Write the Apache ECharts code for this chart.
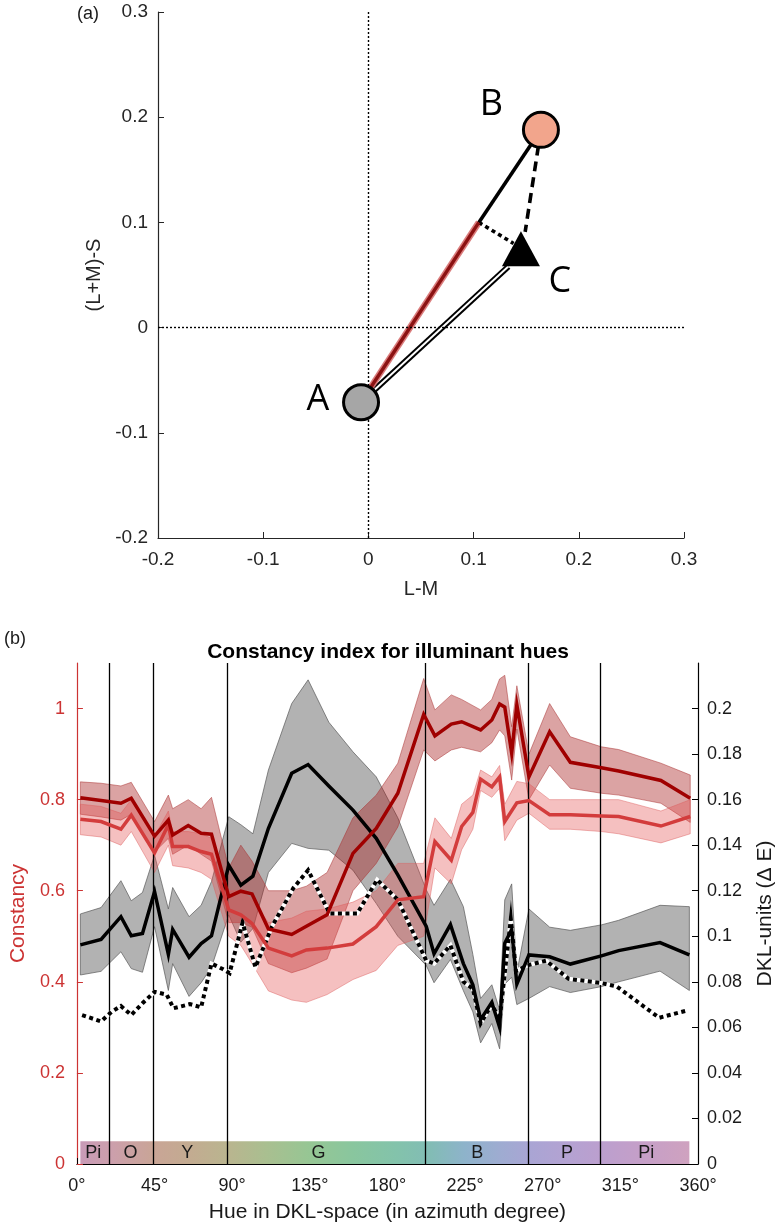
<!DOCTYPE html>
<html>
<head>
<meta charset="utf-8">
<script src="https://cdn.jsdelivr.net/npm/echarts@6.0.0/dist/echarts.min.js"></script>
<style>
  html, body { margin: 0; padding: 0; background: #ffffff; }
  #chart { width: 784px; height: 1229px; }
</style>
</head>
<body>
<div id="chart"></div>
<script>
// ---------------- Panel (a): DKL diagram points ----------------
const pointA = [-0.007, -0.071];
const pointB = [0.164, 0.188];
const pointC = [0.145, 0.075];
const projEnd = [0.105, 0.100];      // end of red projection on A-B
const dashEnd = [0.149, 0.091];      // B -> C dashed end
const dotEnd = [0.138, 0.080];       // projection -> C dotted end
const doubleEnd = [0.133, 0.058];    // A -> C double line end
const pointLabels = ['A', 'B', 'C'];
const labelPos = [[-0.048, -0.069], [0.117, 0.212], [0.182, 0.044]];

// ---------------- Panel (b): constancy data ----------------
// dark red constancy line (left axis)
const r1X = [2, 14, 25.5, 31.5, 45, 53, 55.5, 64.5, 72, 78, 88, 95, 101.5, 111, 124.5, 133, 145, 160, 173.5, 186, 201, 207.5, 217, 223, 234, 240.5, 245, 248, 252, 255, 262, 274, 286, 304, 314, 338.5, 355.5];
const r1Mean = [0.804, 0.798, 0.792, 0.803, 0.720, 0.755, 0.722, 0.743, 0.726, 0.724, 0.587, 0.599, 0.593, 0.516, 0.504, 0.522, 0.547, 0.682, 0.737, 0.814, 0.987, 0.940, 0.966, 0.971, 0.953, 0.975, 1.010, 1.003, 0.902, 1.008, 0.850, 0.949, 0.882, 0.870, 0.863, 0.842, 0.803];
const r1Upper = [0.839, 0.836, 0.830, 0.838, 0.752, 0.810, 0.780, 0.800, 0.780, 0.805, 0.650, 0.700, 0.665, 0.600, 0.600, 0.610, 0.640, 0.760, 0.810, 0.880, 1.066, 0.997, 1.030, 1.020, 0.997, 1.020, 1.065, 1.073, 0.960, 1.050, 0.900, 1.011, 0.938, 0.916, 0.910, 0.880, 0.854];
const r1Lower = [0.768, 0.762, 0.755, 0.768, 0.685, 0.715, 0.680, 0.700, 0.680, 0.665, 0.530, 0.530, 0.520, 0.440, 0.420, 0.430, 0.450, 0.600, 0.660, 0.740, 0.909, 0.885, 0.909, 0.915, 0.905, 0.925, 0.953, 0.940, 0.843, 0.955, 0.800, 0.876, 0.825, 0.814, 0.810, 0.792, 0.750];

// light red constancy line (left axis)
const r2X = [2, 14, 25.5, 31.5, 45, 53, 55.5, 64.5, 72, 78, 88, 95, 101.5, 111, 124.5, 133, 145, 160, 173.5, 186, 201, 207.5, 217, 223, 229.5, 234, 240.5, 245, 248, 255, 262, 274, 286, 304, 314, 338.5, 355.5];
const r2Mean = [0.757, 0.752, 0.735, 0.766, 0.683, 0.745, 0.697, 0.697, 0.686, 0.680, 0.558, 0.547, 0.528, 0.474, 0.457, 0.470, 0.474, 0.483, 0.521, 0.580, 0.587, 0.708, 0.667, 0.741, 0.772, 0.845, 0.828, 0.850, 0.752, 0.793, 0.798, 0.767, 0.767, 0.764, 0.763, 0.742, 0.763];
const r2Upper = [0.790, 0.785, 0.770, 0.800, 0.720, 0.775, 0.730, 0.730, 0.725, 0.715, 0.600, 0.600, 0.580, 0.530, 0.540, 0.555, 0.560, 0.575, 0.600, 0.660, 0.660, 0.760, 0.715, 0.790, 0.810, 0.865, 0.850, 0.875, 0.790, 0.840, 0.835, 0.800, 0.800, 0.800, 0.800, 0.775, 0.800];
const r2Lower = [0.723, 0.718, 0.700, 0.730, 0.640, 0.700, 0.655, 0.650, 0.640, 0.625, 0.500, 0.480, 0.440, 0.380, 0.360, 0.355, 0.372, 0.405, 0.425, 0.480, 0.500, 0.650, 0.615, 0.690, 0.735, 0.820, 0.805, 0.825, 0.710, 0.755, 0.770, 0.735, 0.735, 0.730, 0.725, 0.705, 0.725];

// black line with grey band (right axis, DKL units)
const gX = [2, 14, 25.5, 31.5, 38, 45, 53, 55.5, 65, 72, 78, 88, 95, 102, 111, 124.5, 134, 146, 160, 173.5, 186, 202.5, 207, 216.5, 224, 229.5, 234, 240.5, 245, 248, 252, 255, 262, 274, 286, 304, 314, 338, 355];
const gMean = [0.0962, 0.0986, 0.1086, 0.1002, 0.1012, 0.1196, 0.0920, 0.1030, 0.0908, 0.0968, 0.1002, 0.1312, 0.1224, 0.1264, 0.1474, 0.1716, 0.1754, 0.1660, 0.1554, 0.1430, 0.1270, 0.1043, 0.0923, 0.1051, 0.0880, 0.0787, 0.0634, 0.0710, 0.0600, 0.0970, 0.1030, 0.0790, 0.0918, 0.0910, 0.0878, 0.0914, 0.0937, 0.0972, 0.0918];
const gUpper = [0.1098, 0.1126, 0.1244, 0.1156, 0.1192, 0.1356, 0.1120, 0.1214, 0.1086, 0.1136, 0.1240, 0.1525, 0.1490, 0.1450, 0.1730, 0.2022, 0.2126, 0.1940, 0.1810, 0.1700, 0.1520, 0.1204, 0.1136, 0.1250, 0.1130, 0.0920, 0.0727, 0.0787, 0.0676, 0.1160, 0.1230, 0.0840, 0.1120, 0.1040, 0.1026, 0.1050, 0.1070, 0.1136, 0.1130];
const gLower = [0.0830, 0.0846, 0.0932, 0.0858, 0.0842, 0.1042, 0.0762, 0.0880, 0.0736, 0.0796, 0.0864, 0.1094, 0.0974, 0.1034, 0.1280, 0.1408, 0.1386, 0.1378, 0.1290, 0.1144, 0.1000, 0.0872, 0.0796, 0.0898, 0.0761, 0.0668, 0.0532, 0.0617, 0.0506, 0.0790, 0.0820, 0.0700, 0.0727, 0.0779, 0.0753, 0.0779, 0.0800, 0.0847, 0.0762];

// dotted black/white line (right axis)
const dX = [3, 14, 20, 25.5, 31.5, 38, 45, 52, 56, 65.5, 72, 78, 84.5, 88.5, 96, 103.5, 113, 125.5, 134, 146.5, 162.5, 174, 186, 202.5, 207, 216.5, 224, 229.5, 234, 240.5, 245, 251.5, 254.5, 261, 272, 285, 303, 313, 337.5, 354.5];
const dMean = [0.0654, 0.0626, 0.0668, 0.0694, 0.0654, 0.0706, 0.0756, 0.0744, 0.0684, 0.0702, 0.0688, 0.0880, 0.0856, 0.0838, 0.1060, 0.0864, 0.1042, 0.1212, 0.1290, 0.1100, 0.1100, 0.1248, 0.1160, 0.0893, 0.0880, 0.0960, 0.0800, 0.0770, 0.0617, 0.0702, 0.0634, 0.1077, 0.0847, 0.0872, 0.0893, 0.0813, 0.0796, 0.0779, 0.0642, 0.0676];

// hue category boundaries and labels
const boundaryDeg = [19, 44.5, 87, 202, 261.5, 303.5];
const hueNames = ['Pi', 'O', 'Y', 'G', 'B', 'P', 'Pi'];
const hueLabelDeg = [9.5, 31, 64, 140, 232, 284, 330];
const hueBarRange = [2, 355];
const hueBarTop = 0.05;
const hueLabelY = 0.024;
const hueStops = [
  [2, '#c89bb7'], [20, '#cc9fac'], [45, '#c9a596'], [65, '#c3ab91'], [88, '#b9b58f'],
  [110, '#a9bf90'], [135, '#96c694'], [160, '#89c69e'], [185, '#83c3ab'], [205, '#82bcb5'],
  [225, '#8eb3cb'], [245, '#9eacd1'], [262, '#a9a5d4'], [285, '#b4a2d2'], [305, '#bc9fce'],
  [330, '#c69fc7'], [355, '#cfa2bf']
];
const leftTicks = [0, 0.2, 0.4, 0.6, 0.8, 1];
const rightTicks = [0, 0.02, 0.04, 0.06, 0.08, 0.1, 0.12, 0.14, 0.16, 0.18, 0.2];

// ---------------- Chart ----------------
const FONT = '"Liberation Sans", Arial, Helvetica, sans-serif';
const INK = '#1a1a1a';
const RED = '#cc3333';
const chart = echarts.init(document.getElementById('chart'), null, { renderer: 'canvas' });

function pairs(xs, ys) { return xs.map((x, i) => [x, ys[i]]); }

function band(xs, up, lo, yAxisIndex, fill, stroke, z) {
  return {
    type: 'custom', xAxisIndex: 1, yAxisIndex: yAxisIndex, z: z, silent: true,
    data: xs.map((x, i) => [x, up[i], lo[i]]),
    encode: { x: 0, y: [1, 2] },
    renderItem: function (params, api) {
      if (params.dataIndex !== 0) return null;
      const pts = [];
      for (let i = 0; i < xs.length; i++) pts.push(api.coord([xs[i], up[i]]));
      for (let i = xs.length - 1; i >= 0; i--) pts.push(api.coord([xs[i], lo[i]]));
      return { type: 'polygon', shape: { points: pts }, style: { fill: fill, stroke: stroke, lineWidth: 1 } };
    }
  };
}

function seg(data, color, width, type, z) {
  return {
    type: 'line', xAxisIndex: 0, yAxisIndex: 0, data: data, showSymbol: false, symbol: 'none',
    silent: true, z: z, lineStyle: { color: color, width: width, type: type || 'solid', cap: 'butt', opacity: 1 }
  };
}

function bline(xs, ys, yAxisIndex, color, width, type, z) {
  return {
    type: 'line', xAxisIndex: 1, yAxisIndex: yAxisIndex, data: pairs(xs, ys), showSymbol: false, symbol: 'none',
    silent: true, z: z, lineStyle: { color: color, width: width, type: type || 'solid', join: 'miter', opacity: 1 }
  };
}

const barSpan = hueBarRange[1] - hueBarRange[0];
const gradient = new echarts.graphic.LinearGradient(0, 0, 1, 0,
  hueStops.map(s => ({ offset: (s[0] - hueBarRange[0]) / barSpan, color: s[1] })));

const option = {
  backgroundColor: '#ffffff',
  animation: false,
  title: {
    text: 'Constancy index for illuminant hues',
    left: 383, top: 637, textAlign: 'center',
    textStyle: { fontFamily: FONT, fontSize: 21, fontWeight: 'bold', color: '#000' }
  },
  graphic: [
    { type: 'text', left: 77, top: 5, style: { text: '(a)', fontFamily: FONT, fontSize: 18, fill: INK } },
    { type: 'text', left: 4, top: 630, style: { text: '(b)', fontFamily: FONT, fontSize: 18, fill: INK } }
  ],
  grid: [
    { left: 158, top: 12, width: 526, height: 526 },
    { left: 65, top: 663, width: 637, height: 501 }
  ],
  xAxis: [
    {
      type: 'value', gridIndex: 0, min: -0.2, max: 0.3, interval: 0.1,
      axisLine: { onZero: false, lineStyle: { color: '#262626', width: 1.2 } },
      axisTick: { inside: true, length: 6, lineStyle: { color: '#262626' } },
      splitLine: { show: false },
      axisLabel: { color: '#262626', fontFamily: FONT, fontSize: 19, margin: 12 },
      name: 'L-M', nameLocation: 'middle', nameGap: 41,
      nameTextStyle: { color: '#262626', fontFamily: FONT, fontSize: 20 }
    },
    {
      type: 'value', gridIndex: 1, min: 0, max: 360, interval: 45,
      axisLine: { onZero: false, lineStyle: { color: '#000', width: 1.2 } },
      axisTick: { inside: true, length: 6, lineStyle: { color: '#000' } },
      splitLine: { show: false },
      axisLabel: { color: INK, fontFamily: FONT, fontSize: 18, margin: 13, formatter: '{value}°' },
      name: 'Hue in DKL-space (in azimuth degree)', nameLocation: 'middle', nameGap: 38,
      nameTextStyle: { color: INK, fontFamily: FONT, fontSize: 21 }
    }
  ],
  yAxis: [
    {
      type: 'value', gridIndex: 0, min: -0.2, max: 0.3, interval: 0.1,
      axisLine: { show: true, onZero: false, lineStyle: { color: '#262626', width: 1.2 } },
      axisTick: { show: true, inside: true, length: 6, lineStyle: { color: '#262626' } },
      splitLine: { show: false },
      axisLabel: { color: '#262626', fontFamily: FONT, fontSize: 19, margin: 10 },
      name: '(L+M)-S', nameLocation: 'middle', nameGap: 49, nameRotate: 90,
      nameTextStyle: { color: '#262626', fontFamily: FONT, fontSize: 20 }
    },
    {
      type: 'value', gridIndex: 1, position: 'left', min: 0, max: 1.1,
      axisLine: { show: true, onZero: false, lineStyle: { color: RED, width: 1.2 } },
      axisTick: { show: true, inside: true, length: 6, lineStyle: { color: RED }, customValues: leftTicks },
      splitLine: { show: false },
      axisLabel: { color: RED, fontFamily: FONT, fontSize: 18, margin: 12, customValues: leftTicks },
      name: 'Constancy', nameLocation: 'middle', nameGap: 41, nameRotate: 90,
      nameTextStyle: { color: RED, fontFamily: FONT, fontSize: 21 }
    },
    {
      type: 'value', gridIndex: 1, position: 'right', min: 0, max: 0.22,
      axisLine: { show: true, onZero: false, lineStyle: { color: '#000', width: 1.2 } },
      axisTick: { show: true, inside: true, length: 6, lineStyle: { color: '#000' }, customValues: rightTicks },
      splitLine: { show: false },
      axisLabel: { color: INK, fontFamily: FONT, fontSize: 18, margin: 9, customValues: rightTicks },
      name: 'DKL-units (\u0394 E)', nameLocation: 'middle', nameGap: 57, nameRotate: 90,
      nameTextStyle: { color: INK, fontFamily: FONT, fontSize: 21 }
    }
  ],
  series: [
    // ---- panel (a)
    {
      type: 'line', xAxisIndex: 0, yAxisIndex: 0, data: [], silent: true, z: 1,
      markLine: {
        silent: true, symbol: 'none', label: { show: false }, animation: false,
        lineStyle: { color: '#000', type: [2, 2], width: 1.4 },
        data: [{ xAxis: 0 }, { yAxis: 0 }]
      }
    },
    seg([pointA, doubleEnd], '#000', 6, 'solid', 3),
    seg([pointA, doubleEnd], '#fff', 2, 'solid', 4),
    seg([pointA, projEnd], 'rgba(214,110,110,0.9)', 6.5, 'solid', 3),
    seg([pointA, projEnd], '#8b1212', 3.4, 'solid', 4),
    seg([projEnd, pointB], '#000', 3.6, 'solid', 3),
    seg([pointB, dashEnd], '#000', 3.6, [10, 6], 3),
    seg([projEnd, dotEnd], '#000', 3.6, [4, 3.5], 3),
    {
      type: 'scatter', xAxisIndex: 0, yAxisIndex: 0, symbol: 'triangle', symbolSize: [38, 35], z: 6, silent: true,
      itemStyle: { color: '#000', opacity: 1 }, data: [pointC]
    },
    {
      type: 'scatter', xAxisIndex: 0, yAxisIndex: 0, symbol: 'circle', symbolSize: 35, z: 7, silent: true,
      itemStyle: { borderColor: '#000', borderWidth: 3, opacity: 1 },
      data: [
        { value: pointA, itemStyle: { color: '#a6a6a6', opacity: 1 } },
        { value: pointB, itemStyle: { color: '#f2a58c', opacity: 1 } }
      ]
    },
    {
      type: 'scatter', xAxisIndex: 0, yAxisIndex: 0, symbolSize: 0, z: 8, silent: true,
      itemStyle: { opacity: 1 },
      label: { show: true, position: 'inside', formatter: '{b}', fontFamily: '"Open Sans", "Noto Sans", sans-serif', fontSize: 36, color: '#000' },
      data: labelPos.map((p, i) => ({ value: p, name: pointLabels[i] }))
    },
    // ---- panel (b)
    {
      type: 'line', xAxisIndex: 1, yAxisIndex: 1, data: [], z: -1, silent: true,
      markArea: {
        silent: true,
        itemStyle: { color: gradient, opacity: 1 },
        data: [[{ xAxis: hueBarRange[0], yAxis: 0 }, { xAxis: hueBarRange[1], yAxis: hueBarTop }]]
      }
    },
    {
      type: 'scatter', xAxisIndex: 1, yAxisIndex: 1, symbolSize: 1, z: 12, silent: true,
      itemStyle: { color: 'rgba(0,0,0,0)', opacity: 1 },
      label: { show: true, position: 'inside', formatter: '{b}', fontFamily: FONT, fontSize: 18, color: INK },
      data: hueLabelDeg.map((d, i) => ({ value: [d, hueLabelY], name: hueNames[i] }))
    },
    band(gX, gUpper, gLower, 2, 'rgba(85,85,85,0.45)', 'rgba(90,90,90,0.7)', 2),
    band(r1X, r1Upper, r1Lower, 1, 'rgba(170,35,35,0.42)', 'rgba(170,50,50,0.5)', 2),
    band(r2X, r2Upper, r2Lower, 1, 'rgba(228,80,80,0.36)', 'rgba(220,90,90,0.45)', 2),
    {
      type: 'line', xAxisIndex: 1, yAxisIndex: 1, data: [], silent: true, z: 5,
      markLine: {
        silent: true, symbol: 'none', label: { show: false }, animation: false,
        lineStyle: { color: '#000', type: 'solid', width: 1.3 },
        data: boundaryDeg.map(d => ({ xAxis: d }))
      }
    },
    bline(dX, dMean, 2, '#fff', 4, 'solid', 6),
    bline(dX, dMean, 2, '#000', 4, [4, 3.5], 7),
    bline(gX, gMean, 2, '#000', 3.5, 'solid', 8),
    bline(r2X, r2Mean, 1, '#d33c3c', 3.5, 'solid', 9),
    bline(r1X, r1Mean, 1, '#a00000', 3.5, 'solid', 10)
  ]
};

chart.setOption(option);
</script>
</body>
</html>
